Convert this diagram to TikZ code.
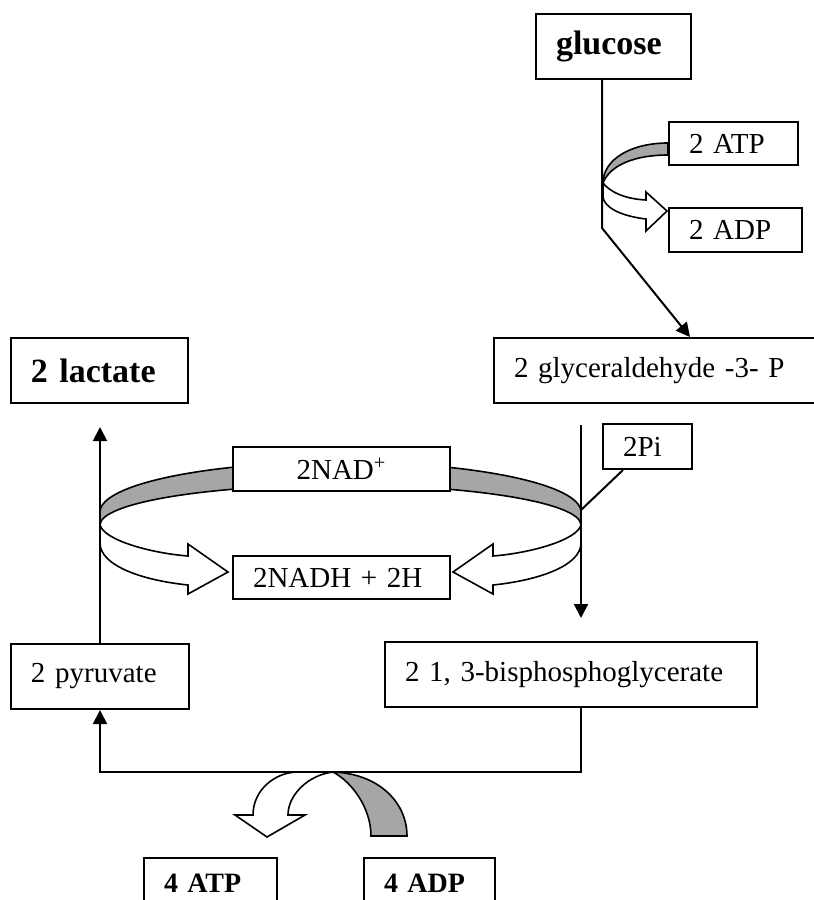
\documentclass[tikz,border=0pt]{standalone}
\usepackage{fontspec}
\setmainfont{Liberation Serif}
\usetikzlibrary{arrows.meta}

\begin{document}
\begin{tikzpicture}[x=0.5pt,y=-0.5pt]
    % Define styles for boxes, bands and arrows
    \tikzstyle{plainbox} = [rectangle, draw, fill=white, line width=1pt, anchor=north west, align=left, inner xsep=10pt, inner ysep=0pt, font=\fontsize{14.5pt}{17pt}\selectfont]
    \tikzstyle{boldbox} = [plainbox, font=\fontsize{17pt}{20pt}\selectfont\bfseries]
    \tikzstyle{smallbold} = [plainbox, font=\fontsize{14pt}{17pt}\selectfont\bfseries]
    \tikzstyle{arrow} = [line width=1pt, -{Triangle[length=7pt,width=7pt]}]
    \tikzstyle{hband} = [draw, line width=0.8pt, fill=black!35]
    \tikzstyle{hollow} = [draw, line width=0.8pt, fill=white]

    \useasboundingbox (0,0) rectangle (814,900);

    % Joints on the lines
    \coordinate (bend) at (602,228);
    \coordinate (ringL) at (100,525);
    \coordinate (ringR) at (581,525);
    \coordinate (pijoin) at (581,510);
    \coordinate (atpjoin) at (330,772);

    % ATP -> ADP near glucose
    \draw[hband] (603,183) .. controls (603,160) and (630,143) .. (668,143) -- (668,155) .. controls (635,155) and (610,165) .. (603,183) -- cycle;
    \draw[hollow] (603,183) .. controls (610,192) and (625,199) .. (646,200) -- (646,192) -- (667,211) -- (646,231) -- (646,219) .. controls (620,216) and (604,207) .. (603,197) -- cycle;

    % NAD+ / NADH ring
    \draw[hband] (100,512) .. controls (100,484.3) and (207.7,462) .. (340.5,462) .. controls (473.3,462) and (581,484.3) .. (581,512) -- (581,525) .. controls (581,502.9) and (473.3,485) .. (340.5,485) .. controls (207.7,485) and (100,502.9) .. (100,525) -- cycle;
    \draw[hollow] (100,525) .. controls (104,540) and (150,553) .. (188,556) -- (188,544) -- (228,572) -- (188,594) -- (188,585) .. controls (140,580) and (100,565) .. (100,543) -- cycle;
    \draw[hollow] (581,525) .. controls (577,540) and (531,553) .. (493,556) -- (493,544) -- (453,572) -- (493,594) -- (493,585) .. controls (541,580) and (581,565) .. (581,543) -- cycle;

    % ADP -> ATP at the bottom
    \draw[hband] (327,772) .. controls (375,771) and (407,800) .. (407,836) -- (371,836) .. controls (371,808) and (352,782) .. (333,772) -- cycle;
    \draw[hollow] (333,772) .. controls (308,775) and (288,795) .. (288,815) -- (305,815) -- (267,837) -- (235,815) -- (253,815) .. controls (253,790) and (275,772) .. (298,772) -- cycle;

    % Nodes
    \node (glucose) [boldbox, text width=57.5pt, minimum height=32.5pt] at (535,13) {glucose};
    \node (atpa) [plainbox, text width=44.5pt, minimum height=21.5pt] at (668,121) {2 ATP};
    \node (adpa) [plainbox, text width=46.5pt, minimum height=22pt] at (668,207) {2 ADP};
    \node (gly) [plainbox, text width=160pt, minimum height=32.5pt] at (493,337) {2 glyceraldehyde -3- P};
    \node (lactate) [boldbox, text width=68.5pt, minimum height=32.5pt] at (10,337) {2 lactate};
    \node (pi) [plainbox, text width=24.5pt, minimum height=22.5pt] at (602,423) {2Pi};
    \node (nad) [plainbox, align=center, text width=88.5pt, minimum height=22pt] at (232,446) {2NAD\textsuperscript{+}};
    \node (nadh) [plainbox, text width=88.5pt, minimum height=21.5pt] at (232,555) {2NADH + 2H};
    \node (pyr) [plainbox, text width=69pt, minimum height=32.5pt] at (10,643) {2 pyruvate};
    \node (bis) [plainbox, text width=166pt, minimum height=32.5pt] at (384,641) {2 1, 3-bisphosphoglycerate};
    \node (atpb) [smallbold, text width=46.5pt, minimum height=25.5pt] at (143,857) {4 ATP};
    \node (adpb) [smallbold, text width=45.5pt, minimum height=25.5pt] at (363,857) {4 ADP};

    % Arrows
    \draw [arrow] (glucose.south -| bend) -- (bend) -- ([xshift=98.5pt]gly.north west);
    \draw [arrow, shorten <=10.5pt, shorten >=11.5pt] (gly.south -| ringR) -- (bis.north -| ringR);
    \draw [line width=1pt] ([xshift=10.5pt]pi.south west) -- (pijoin);
    \draw [arrow] (bis.south -| ringR) |- (atpjoin) -| (pyr.south -| ringL);
    \draw [arrow, shorten >=11.5pt] (pyr.north -| ringL) -- (lactate.south -| ringL);

\end{tikzpicture}
\end{document}
